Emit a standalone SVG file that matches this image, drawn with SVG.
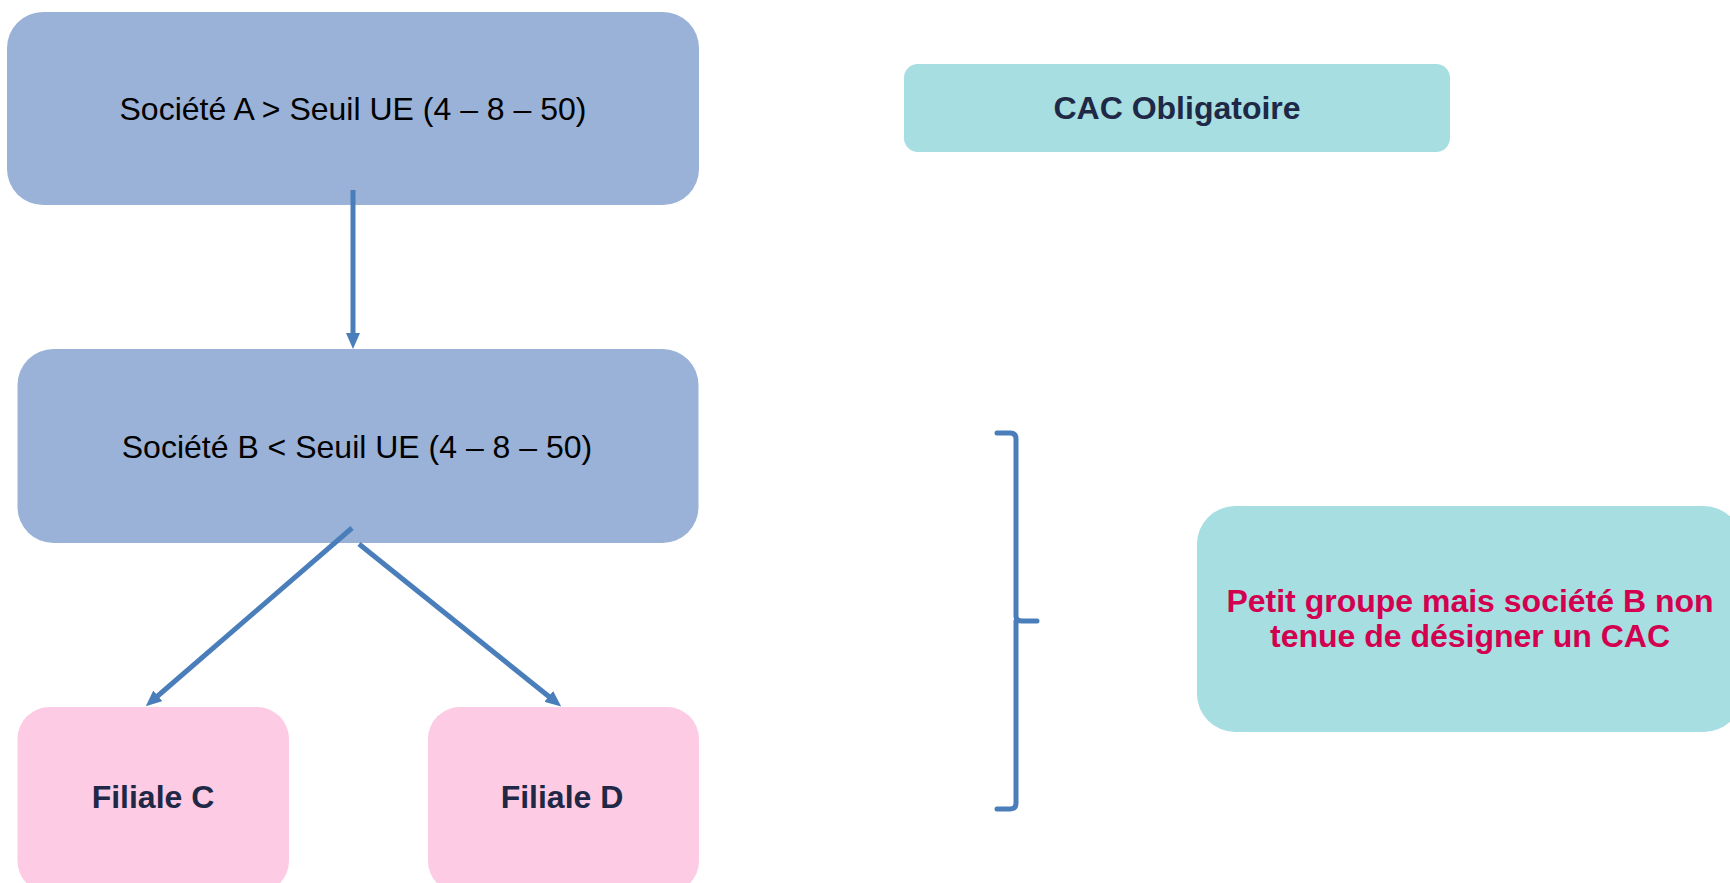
<svg xmlns="http://www.w3.org/2000/svg" width="1730" height="883" viewBox="0 0 1730 883">
<style>
.blue{fill:#9AB2D7}
.teal{fill:#A7DEE1}
.pink{fill:#FDCBE4}
.t{font-family:"Liberation Sans",Arial,sans-serif;font-size:32px;text-anchor:middle}
.dark{fill:#1F2846;font-weight:bold}
.black{fill:#000}
.red{fill:#D2004F;font-weight:bold}
.conn{stroke:#4A7EBB;stroke-width:5;fill:none}
</style>
<defs>
<marker id="ah" viewBox="0 0 16 14" refX="1" refY="7" markerWidth="16" markerHeight="14" markerUnits="userSpaceOnUse" orient="auto">
<path d="M0,0 L16,7 L0,14 z" fill="#4A7EBB"/>
</marker>
</defs>
<g id="nodeA">
<rect class="blue" x="7" y="12" width="692" height="193" rx="36" ry="36"/>
<text class="t black" x="353" y="120" font-weight="normal">Société A &gt; Seuil UE (4 – 8 – 50)</text>
</g>
<g id="nodeCAC">
<rect class="teal" x="904" y="64" width="546" height="88" rx="14" ry="14"/>
<text class="t dark" x="1177" y="119">CAC Obligatoire</text>
</g>
<g id="nodeB">
<rect class="blue" x="17.5" y="349" width="681" height="194" rx="36" ry="36"/>
<text class="t black" x="357" y="458">Société B &lt; Seuil UE (4 – 8 – 50)</text>
</g>
<g id="nodeC">
<rect class="pink" x="17.5" y="707" width="271.5" height="186" rx="32" ry="32"/>
<text class="t dark" x="153" y="808">Filiale C</text>
</g>
<g id="nodeD">
<rect class="pink" x="428" y="707" width="271" height="186" rx="32" ry="32"/>
<text class="t dark" x="562" y="808">Filiale D</text>
</g>
<g id="nodeNote">
<rect class="teal" x="1197" y="506" width="545" height="226" rx="38" ry="38"/>
<text class="t red" x="1470" y="612">Petit groupe mais société B non</text>
<text class="t red" x="1470" y="647">tenue de désigner un CAC</text>
</g>
<g id="connectors">
<line class="conn" x1="353" y1="190" x2="353" y2="334" marker-end="url(#ah)"/>
<line class="conn" x1="352" y1="528" x2="157.1" y2="696.5" marker-end="url(#ah)"/>
<line class="conn" x1="359" y1="544" x2="549.5" y2="697" marker-end="url(#ah)"/>
<path class="conn" stroke-width="8" stroke-linecap="round" stroke-linejoin="round" d="M997 433 L1010 433 Q1016 433 1016 439 L1016 616 Q1016 621 1022 621 L1037 621 M1016 621 Q1016 626 1016 627 L1016 803 Q1016 809 1010 809 L997 809"/>
</g>
</svg>
